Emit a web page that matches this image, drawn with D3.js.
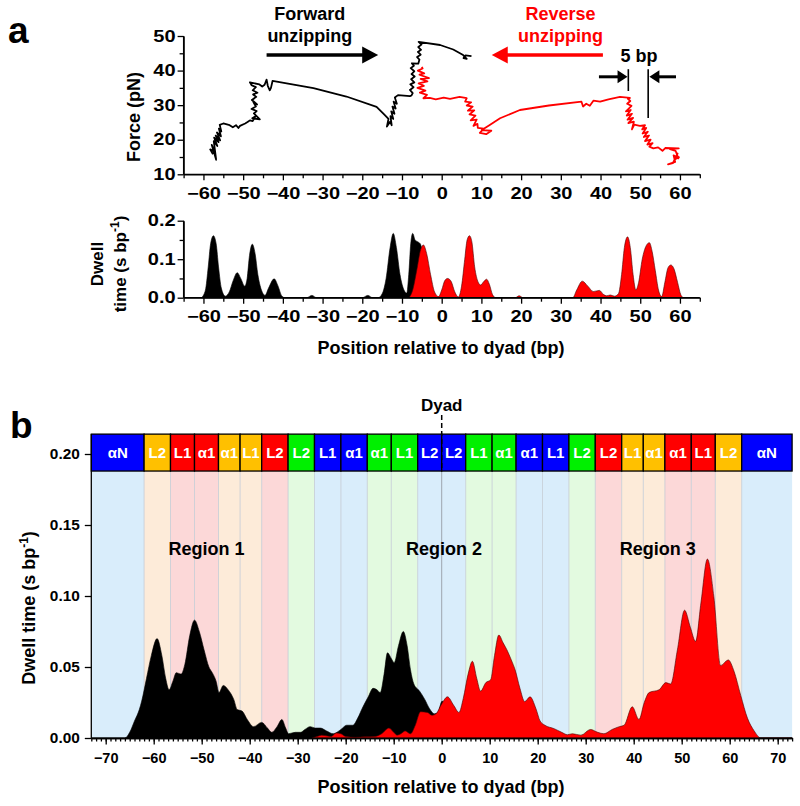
<!DOCTYPE html>
<html>
<head>
<meta charset="utf-8">
<script src="https://cdn.jsdelivr.net/npm/d3@7"></script>
<style>
body{margin:0;background:#fff;}
svg text{font-family:"Liberation Sans",Arial,sans-serif;font-weight:bold;fill:#000;}
.axis path,.axis line{stroke:#000;stroke-width:1.3;fill:none;}
</style>
</head>
<body>
<script>
//force traces, [position (bp), force (pN)], in time order
var forceFwd = [[-57.6,15.8],[-58.3,17.2],[-57.2,16.5],[-57.9,18.5],[-56.8,14.2],[-57.4,19.6],[-56.5,18.2],[-57.3,20.6],[-56.2,19.3],[-56.9,21.2],[-55.8,19.8],[-56.6,22.1],[-55.6,21.0],[-56.1,23.2],[-55.5,22.4],[-55.9,24.3],[-55.0,24.7],[-53.4,24.2],[-52.6,23.6],[-51.8,24.2],[-51.2,23.4],[-50.8,24.0],[-49.5,24.7],[-48.9,25.1],[-48.3,25.6],
    [-47.6,25.4],[-46.9,26.8],[-47.7,26.2],[-45.8,25.9],[-47.3,27.6],[-46.6,28.3],[-47.9,28.9],[-46.8,29.6],[-47.4,30.8],[-46.5,30.2],[-47.8,31.5],[-46.7,32.4],[-47.5,33.1],[-46.4,33.6],[-47.6,34.3],[-46.8,35.2],[-47.9,35.8],[-48.3,36.6],[-45.9,36.0],[-45.2,35.4],[-44.6,35.9],[-44.1,37.4],[-43.8,35.6],[-43.3,34.3],[-43.0,35.0],[-42.6,37.0],
    [-32.3,34.9],[-24,32.5],[-16.4,29.5],[-14.5,27.3],[-13.4,26.0],[-13.8,23.8],[-13.0,25.2],[-12.6,24.2],[-12.9,26.8],[-12.2,26.0],[-12.7,28.2],[-11.9,27.5],[-12.4,29.6],[-11.6,29.0],[-12.1,31.0],[-11.3,30.4],[-11.8,32.2],[-11.0,32.9],[-8.0,32.6],[-7.6,32.8],
    [-7.3,33.5],[-8.0,34.4],[-7.1,35.2],[-7.9,36.0],[-6.9,36.6],[-7.7,37.5],[-6.8,38.3],[-7.6,39.0],[-6.9,39.8],[-7.8,40.7],[-7.0,41.4],[-7.5,42.1],[-5.9,42.0],[-5.6,43.2],[-6.2,43.9],[-5.3,44.6],[-6.0,45.4],[-5.2,46.0],[-5.9,46.8],[-5.1,47.5],[-5.8,48.3],[-0.4,47.4],[2.9,46.1],[5.4,44.5],[6.3,43.4],[5.5,43.6],[6.0,44.4],[7.5,44.2]];

var forceRev = [[59.9,15.1],[58.6,14.2],[59.4,16.0],[58.2,13.2],[57.0,12.9],[58.8,13.6],[58.4,15.5],[59.6,14.6],[58.9,16.8],[57.5,17.3],[59.7,17.5],[56.3,17.6],[55.6,16.8],[54.5,17.8],[53.3,17.5],[52.3,18.0],[53.1,19.0],[51.8,18.6],[52.6,20.0],[51.2,19.6],[52.2,21.2],[50.9,20.8],[51.9,22.3],[50.6,21.8],[51.5,23.4],[50.5,23.0],[51.2,24.2],[49.9,24.0],[48.5,24.4],[47.9,23.0],[48.4,25.2],[47.0,24.8],[48.2,26.3],[46.8,25.8],[47.9,27.5],[46.6,27.0],[47.6,28.6],[46.4,28.2],[47.8,29.8],[46.7,30.4],[47.5,31.2],[46.9,31.8],[47.4,32.1],
    [44.9,32.4],[42,31.7],[39.9,31.0],[38.2,31.3],[37.3,29.8],[36.4,30.4],[35.6,29.6],[35.2,31.0],[27,29.9],[19.7,28.6],[14.7,26.2],[12.0,24.2],[10.1,22.8],[12.5,22.6],[11.2,21.6],[9.6,22.0],[10.6,23.2],[9.1,23.4],[9.0,24.6],[8.0,24.0],[8.8,25.8],[7.3,25.6],[8.5,27.0],[7.0,27.3],[8.2,28.5],[6.6,28.4],[7.8,29.6],[6.3,29.9],[7.4,30.8],[5.9,31.0],[6.3,32.0],
    [4.5,32.4],[2.1,31.8],[0.5,32.2],[-1.5,31.7],[-3,32.1],[-4.6,32.0],[-3.7,33.0],[-5.5,33.6],[-4.1,34.2],[-6.1,35.0],[-4.5,35.6],[-5.8,36.3],[-3.6,36.9],[-5.3,37.6],[-3.2,37.8],[-5.6,38.8],[-4.4,39.2],[-6.0,40.0],[-4.8,40.6],[-5.0,41.1]];

//dwell time histograms of panel a, [position (bp), s/bp]
var dwellFwdA = [[-60.5,0],[-59.5,0.02],[-58.8,0.08],[-58.2,0.14],[-57.5,0.161],[-56.8,0.14],[-56.2,0.08],[-55.5,0.025],[-54.5,0.004],[-53.5,0.015],[-52.5,0.045],[-51.5,0.065],[-50.6,0.05],[-49.6,0.03],[-49,0.05],[-48.4,0.11],[-47.7,0.139],[-47,0.115],[-46.3,0.06],[-45.4,0.02],[-44.5,0.006],[-43.6,0.025],[-42.2,0.049],[-41.2,0.03],[-40.3,0.005],[-39.5,0],[-34,0],[-32.7,0.006],[-31.5,0],[-20,0],[-18.6,0.006],[-17.4,0],[-16,0],[-15,0.01],[-14,0.05],[-13,0.13],[-12.2,0.167],[-11.4,0.13],[-10.5,0.06],[-9.5,0.02],[-8.8,0.012],[-8.3,0.06],[-7.8,0.14],[-7.3,0.167],[-6.7,0.15],[-6,0.145],[-5.4,0.14],[-4.5,0.1],[-3.5,0.03],[-2.5,0]];
var dwellRevA = [[-8.2,0],[-7.3,0.02],[-6.3,0.07],[-5.3,0.125],[-4.6,0.137],[-3.8,0.115],[-2.8,0.06],[-1.8,0.015],[-0.8,0.003],[0,0.02],[0.8,0.045],[1.5,0.05],[2.4,0.042],[3.3,0.015],[4.2,0.002],[5,0.03],[5.8,0.1],[6.4,0.15],[7,0.161],[7.6,0.145],[8.3,0.08],[9.2,0.04],[9.8,0.033],[10.6,0.042],[11.3,0.048],[12,0.035],[12.8,0.008],[13.6,0],[18.5,0],[19.5,0.005],[20.5,0],[33,0],[34,0.02],[35.4,0.043],[36.8,0.03],[38.2,0.016],[39.7,0.019],[40.8,0.008],[41.5,0.005],[42.5,0.007],[43.5,0.004],[44.5,0.01],[45.3,0.06],[46,0.13],[46.8,0.158],[47.5,0.13],[48.2,0.06],[48.9,0.02],[49.6,0.04],[50.5,0.1],[51.5,0.135],[52.3,0.143],[53,0.12],[53.8,0.07],[54.6,0.02],[55.4,0.003],[56.2,0.04],[57,0.078],[57.7,0.085],[58.5,0.075],[59.4,0.04],[60.2,0.008],[60.8,0]];

//dwell time distributions of panel b
var dwellFwdB = [[-73,0],[-66,0],[-65,0.004],[-64,0.012],[-63,0.02],[-62.5,0.026],[-61.5,0.042],[-60.5,0.058],[-59.3,0.070],[-58.3,0.058],[-57.5,0.042],[-56.8,0.034],[-56,0.04],[-55.3,0.046],[-54.3,0.045],[-53.5,0.052],[-52.5,0.072],[-51.5,0.083],[-50.5,0.075],[-49.5,0.062],[-48.5,0.05],[-47.8,0.046],[-47,0.04],[-46.4,0.032],[-45.5,0.037],[-44.5,0.034],[-43.3,0.027],[-42.6,0.020],[-41.6,0.019],[-40.5,0.013],[-39.2,0.008],[-37.5,0.011],[-36.3,0.007],[-35.4,0.004],[-34.3,0.008],[-33.3,0.013],[-32.5,0.007],[-31.9,0.003],[-30.5,0.004],[-29.4,0.004],[-28.5,0.006],[-27.4,0.008],[-26.3,0.007],[-25.3,0.007],[-24,0.005],[-22.6,0.003],[-21,0.006],[-19.8,0.009],[-18.5,0.009],[-17.5,0.014],[-16.4,0.022],[-15.3,0.029],[-14.3,0.035],[-13.5,0.034],[-12.8,0.032],[-12,0.045],[-11.3,0.060],[-10.5,0.056],[-9.9,0.053],[-9,0.065],[-8.0,0.075],[-7.2,0.065],[-6.5,0.048],[-5.8,0.038],[-4.6,0.033],[-3.5,0.027],[-2.6,0.021],[-1.5,0.017],[-0.8,0.018],[0.1,0.026],[0.8,0.02],[1.5,0.01],[2.5,0.004],[4,0.001],[6,0],[73,0]];
var dwellRevB = [[-27,0],[-26,0.001],[-25,0.002],[-24,0.0015],[-23,0.001],[-22,0.0035],[-21,0.003],[-20,0.001],[-18,0.0005],[-16,0.0008],[-14,0.001],[-12.5,0.003],[-11,0.007],[-10,0.004],[-9.3,0.002],[-8.5,0.003],[-7.6,0.005],[-6.5,0.003],[-5.5,0.009],[-4.4,0.0185],[-3,0.018],[-2,0.016],[-1.2,0.017],[0,0.024],[1.2,0.029],[2.5,0.023],[3.6,0.018],[4.5,0.028],[5.5,0.045],[6.4,0.054],[7.3,0.042],[8.1,0.033],[9.2,0.039],[10.2,0.041],[11,0.058],[11.9,0.0725],[12.8,0.067],[13.6,0.062],[14.5,0.055],[15.3,0.048],[16.3,0.035],[17.3,0.0256],[18.4,0.029],[19.6,0.021],[20.5,0.012],[21.5,0.009],[23.4,0.0066],[25,0.004],[26.2,0.0023],[27.2,0.003],[29,0.002],[31,0.006],[32.5,0.004],[33.8,0.003],[35.5,0.006],[37,0.008],[38,0.009],[39.7,0.022],[41.1,0.013],[42.2,0.025],[43.2,0.032],[45.3,0.034],[46.7,0.039],[47.7,0.038],[49.1,0.062],[50.6,0.090],[51.8,0.078],[52.9,0.068],[54,0.095],[55.35,0.126],[56.7,0.0995],[58.1,0.051],[59.7,0.055],[60.9,0.047],[62.3,0.030],[63.7,0.014],[65.1,0.005],[66.5,0],[73,0]];

//histone contact segments along the DNA
var bandBounds = [-73,-62,-56.5,-51.5,-46.5,-42,-37.5,-32,-26.5,-21,-15.5,-10.5,-5,0,5,10.5,15.5,21,26.5,32,37.5,42,46.5,52,57,62.5,73];
var bandLabels = ["αN","L2","L1","α1","α1","L1","L2","L2","L1","α1","α1","L1","L2","L2","L1","α1","α1","L1","L2","L2","L1","α1","α1","L1","L2","αN"];
var bandKind = ["b","o","r","r","o","o","r","g","b","b","g","g","b","b","g","g","b","b","g","r","o","o","r","r","o","b"];

var regionLabels = ["Region 1","Region 2","Region 3"];
var regionPos = [-49,0.5,45];

//tick values
var aTicksX = [-60,-50,-40,-30,-20,-10,0,10,20,30,40,50,60];
var aTicksForce = [10,20,30,40,50];
var aTicksDwell = [0,0.1,0.2];
var bTicksX = [-70,-60,-50,-40,-30,-20,-10,0,10,20,30,40,50,60,70];
var bTicksY = [0,0.05,0.10,0.15,0.20];

(function(){

    var width = 800, height = 806;

    var svg = d3.select("body")
        .append("svg")
        .attr("width", width)
        .attr("height", height);

    var bandColor = {b:"#0000ff", o:"#ffc000", r:"#ff0000", g:"#00f000"};
    var lightColor = {b:"#d9edfb", o:"#fdebd9", r:"#fcd8d8", g:"#e3fae0"};

    //----- panel a -----
    var xa = d3.scaleLinear().domain([-65,65]).range([183.6,699.8]);
    var yForce = d3.scaleLinear().domain([10,50]).range([174.3,36]);
    var yDwellA = d3.scaleLinear().domain([0,0.2]).range([297.7,220.7]);

    //bottom axis with major and minor ticks
    function xAxisA(y){
        svg.append("g").attr("class","axis")
            .attr("transform","translate(0,"+y+")")
            .call(d3.axisBottom(xa).tickValues(d3.range(-65,66,10)).tickSize(4).tickFormat("").tickSizeOuter(0));
        var g = svg.append("g").attr("class","axis")
            .attr("transform","translate(0,"+y+")")
            .call(d3.axisBottom(xa).tickValues(aTicksX).tickSize(6).tickPadding(7).tickSizeOuter(0));
        g.selectAll("text").style("font-size","16px").attr("transform","scale(1.25,1)");
        g.select(".domain").remove();
    }

    function yAxisA(scale, major, minor, fmt){
        svg.append("g").attr("class","axis")
            .attr("transform","translate("+xa(-65)+",0)")
            .call(d3.axisLeft(scale).tickValues(minor).tickSize(4).tickFormat("").tickSizeOuter(0));
        var g = svg.append("g").attr("class","axis")
            .attr("transform","translate("+xa(-65)+",0)")
            .call(d3.axisLeft(scale).tickValues(major).tickSize(6).tickFormat(fmt).tickSizeOuter(0));
        g.selectAll("text").style("font-size","16px")
            .attr("x", -8/1.25)
            .attr("transform","scale(1.25,1)");
        g.select(".domain").remove();
    }

    //force traces
    var forceLine = d3.line()
        .x(function(d){ return xa(d[0]); })
        .y(function(d){ return yForce(d[1]); });

    svg.append("path").datum(forceFwd)
        .attr("d", forceLine)
        .attr("fill","none").attr("stroke","#000")
        .attr("stroke-width",1.8).attr("stroke-linejoin","round");
    svg.append("path").datum(forceRev)
        .attr("d", forceLine)
        .attr("fill","none").attr("stroke","#ff0000")
        .attr("stroke-width",1.8).attr("stroke-linejoin","round");

    //axes of force plot
    svg.append("line")
        .attr("x1",xa(-65)).attr("x2",xa(-65))
        .attr("y1",yForce(10)).attr("y2",yForce(50))
        .attr("stroke","#000").attr("stroke-width",1.3);
    svg.append("line")
        .attr("x1",xa(-65)).attr("x2",xa(65))
        .attr("y1",yForce(10)).attr("y2",yForce(10))
        .attr("stroke","#000").attr("stroke-width",1.3);
    xAxisA(yForce(10));
    yAxisA(yForce, aTicksForce, [15,25,35,45], d3.format("d"));

    //dwell histograms of panel a
    var areaA = d3.area()
        .x(function(d){ return xa(d[0]); })
        .y0(yDwellA(0))
        .y1(function(d){ return yDwellA(d[1]); })
        .curve(d3.curveMonotoneX);

    svg.append("path").datum(dwellFwdA)
        .attr("d", areaA).attr("fill","#000").attr("stroke","#000").attr("stroke-width",0.6);
    svg.append("path").datum(dwellRevA)
        .attr("d", areaA).attr("fill","#ff0000").attr("stroke","#4a0000").attr("stroke-width",0.6);

    svg.append("line")
        .attr("x1",xa(-65)).attr("x2",xa(-65))
        .attr("y1",yDwellA(0)).attr("y2",yDwellA(0.2))
        .attr("stroke","#000").attr("stroke-width",1.3);
    svg.append("line")
        .attr("x1",xa(-65)).attr("x2",xa(65))
        .attr("y1",yDwellA(0)).attr("y2",yDwellA(0))
        .attr("stroke","#000").attr("stroke-width",1.3);
    xAxisA(yDwellA(0));
    yAxisA(yDwellA, aTicksDwell, [0.05,0.15], d3.format(".1f"));

    //panel a texts
    svg.append("text").attr("x",8).attr("y",43).style("font-size","37px").text("a");

    svg.append("text")
        .attr("transform","translate(140,117) rotate(-90)")
        .attr("text-anchor","middle").style("font-size","18px").text("Force (pN)");

    svg.append("text")
        .attr("transform","translate(103,264) rotate(-90)")
        .attr("text-anchor","middle").style("font-size","17px").text("Dwell");
    var dl = svg.append("text")
        .attr("transform","translate(126,264) rotate(-90)")
        .attr("text-anchor","middle").style("font-size","17px");
    dl.append("tspan").text("time (s bp");
    dl.append("tspan").attr("dy",-7).style("font-size","12px").text("-1");
    dl.append("tspan").attr("dy",7).text(")");

    svg.append("text").attr("x",441).attr("y",354)
        .attr("text-anchor","middle").style("font-size","18px")
        .text("Position relative to dyad (bp)");

    //forward / reverse annotations
    function arrow(x1, x2, y, color, head, half, w){
        var dir = x2 > x1 ? 1 : -1;
        svg.append("line")
            .attr("x1",x1).attr("x2",x2 - dir*head*0.8)
            .attr("y1",y).attr("y2",y)
            .attr("stroke",color).attr("stroke-width",w);
        svg.append("path")
            .attr("d","M"+x2+","+y+"L"+(x2-dir*head)+","+(y-half)+"L"+(x2-dir*head)+","+(y+half)+"Z")
            .attr("fill",color);
    }

    svg.append("text").attr("x",xa(-33.2)).attr("y",20)
        .attr("text-anchor","middle").style("font-size","18px").text("Forward");
    svg.append("text").attr("x",xa(-33.2)).attr("y",42)
        .attr("text-anchor","middle").style("font-size","18px").text("unzipping");
    arrow(xa(-44.1), xa(-16), yForce(44.5), "#000", 16, 8.5, 3.5);

    svg.append("text").attr("x",xa(29.9)).attr("y",20)
        .attr("text-anchor","middle").style("font-size","18px").style("fill","#ff0000").text("Reverse");
    svg.append("text").attr("x",xa(29.9)).attr("y",42)
        .attr("text-anchor","middle").style("font-size","18px").style("fill","#ff0000").text("unzipping");
    arrow(xa(40.6), xa(12.6), yForce(44.5), "#ff0000", 16, 8.5, 3.5);

    svg.append("text").attr("x",xa(49.7)).attr("y",62)
        .attr("text-anchor","middle").style("font-size","18px").text("5 bp");
    svg.append("line").attr("x1",xa(47)).attr("x2",xa(47))
        .attr("y1",yForce(40.4)).attr("y2",yForce(34.1)).attr("stroke","#000").attr("stroke-width",1.6);
    svg.append("line").attr("x1",xa(52)).attr("x2",xa(52))
        .attr("y1",yForce(40.4)).attr("y2",yForce(26.3)).attr("stroke","#000").attr("stroke-width",1.6);
    arrow(xa(39.6), xa(46.8), yForce(38.2), "#000", 10, 6.5, 3);
    arrow(xa(59), xa(52.3), yForce(38.2), "#000", 10, 6.5, 3);

    //----- panel b -----
    var xb = d3.scaleLinear().domain([-73,73]).range([91.3,792.1]);
    var yb = d3.scaleLinear().domain([0,0.2]).range([738,454]);
    var bandLo = 0.188, bandHi = 0.214;

    var segs = bandLabels.map(function(l, i){
        return {label:l, kind:bandKind[i], x0:bandBounds[i], x1:bandBounds[i+1]};
    });

    //background columns
    svg.selectAll(".bgCol")
        .data(segs).enter()
        .append("rect")
        .attr("class","bgCol")
        .attr("x", function(d){ return xb(d.x0); })
        .attr("width", function(d){ return xb(d.x1) - xb(d.x0); })
        .attr("y", yb(bandLo))
        .attr("height", yb(0) - yb(bandLo))
        .attr("fill", function(d){ return lightColor[d.kind]; });

    svg.selectAll(".bgSep")
        .data(bandBounds.slice(1, -1)).enter()
        .append("line")
        .attr("class","bgSep")
        .attr("x1", function(d){ return xb(d); })
        .attr("x2", function(d){ return xb(d); })
        .attr("y1", yb(bandLo)).attr("y2", yb(0))
        .attr("stroke", function(d){ return d === 0 ? "#8a9099" : "#c4ccd4"; })
        .attr("stroke-width", 0.8);

    //dwell distributions
    var areaB = d3.area()
        .x(function(d){ return xb(d[0]); })
        .y0(yb(0))
        .y1(function(d){ return yb(d[1]); })
        .curve(d3.curveMonotoneX);

    svg.append("path").datum(dwellFwdB)
        .attr("d", areaB).attr("fill","#000").attr("stroke","#000").attr("stroke-width",0.6);
    svg.append("path").datum(dwellRevB)
        .attr("d", areaB).attr("fill","#ff0000").attr("stroke","#4a0000").attr("stroke-width",0.6);

    //segment band
    svg.selectAll(".seg")
        .data(segs).enter()
        .append("rect")
        .attr("class","seg")
        .attr("x", function(d){ return xb(d.x0); })
        .attr("width", function(d){ return xb(d.x1) - xb(d.x0); })
        .attr("y", yb(bandHi))
        .attr("height", yb(bandLo) - yb(bandHi))
        .attr("fill", function(d){ return bandColor[d.kind]; })
        .attr("stroke","#000").attr("stroke-width",1.3);

    svg.selectAll(".segLabel")
        .data(segs).enter()
        .append("text")
        .attr("class","segLabel")
        .attr("x", function(d){ return (xb(d.x0) + xb(d.x1)) / 2; })
        .attr("y", (yb(bandHi) + yb(bandLo)) / 2 + 5.5)
        .attr("text-anchor","middle")
        .style("font-size","15px")
        .style("fill","#fff")
        .text(function(d){ return d.label; });

    //dyad marker
    svg.append("line")
        .attr("x1",xb(0)).attr("x2",xb(0))
        .attr("y1",415).attr("y2",yb(bandLo))
        .attr("stroke","#000").attr("stroke-width",1.5)
        .attr("stroke-dasharray","5,3");
    svg.append("text").attr("x",xb(0)).attr("y",411)
        .attr("text-anchor","middle").style("font-size","17px").text("Dyad");

    //region labels
    svg.selectAll(".region")
        .data(regionLabels).enter()
        .append("text")
        .attr("class","region")
        .attr("x", function(d, i){ return xb(regionPos[i]); })
        .attr("y", 555)
        .attr("text-anchor","middle")
        .style("font-size","18px")
        .text(function(d){ return d; });

    //axes of panel b
    svg.append("g").attr("class","axis")
        .attr("transform","translate(0,"+yb(0)+")")
        .call(d3.axisBottom(xb).tickValues(d3.range(-73,74,1)).tickSize(3.5).tickFormat("").tickSizeOuter(0));
    var gx = svg.append("g").attr("class","axis")
        .attr("transform","translate(0,"+yb(0)+")")
        .call(d3.axisBottom(xb).tickValues(bTicksX).tickSize(6.5).tickPadding(8).tickSizeOuter(0));
    gx.selectAll("text").style("font-size","14.5px");

    var gy = svg.append("g").attr("class","axis")
        .attr("transform","translate("+xb(-73)+",0)")
        .call(d3.axisLeft(yb).tickValues(bTicksY).tickSize(6.5).tickPadding(5).tickFormat(d3.format(".2f")).tickSizeOuter(0));
    gy.selectAll("text").style("font-size","14px")
        .attr("x", -11.5/1.1)
        .attr("transform","scale(1.1,1)");
    gy.select(".domain").remove();
    svg.append("line")
        .attr("x1",xb(-73)).attr("x2",xb(-73))
        .attr("y1",yb(0)).attr("y2",yb(bandHi))
        .attr("stroke","#000").attr("stroke-width",1.3);

    //panel b texts
    svg.append("text").attr("x",10).attr("y",438).style("font-size","37px").text("b");

    var yl = svg.append("text")
        .attr("transform","translate(35,608) rotate(-90)")
        .attr("text-anchor","middle").style("font-size","18px");
    yl.append("tspan").text("Dwell time (s bp");
    yl.append("tspan").attr("dy",-7).style("font-size","12px").text("-1");
    yl.append("tspan").attr("dy",7).text(")");

    svg.append("text").attr("x",441).attr("y",793)
        .attr("text-anchor","middle").style("font-size","18px")
        .text("Position relative to dyad (bp)");

})();
</script>
</body>
</html>
